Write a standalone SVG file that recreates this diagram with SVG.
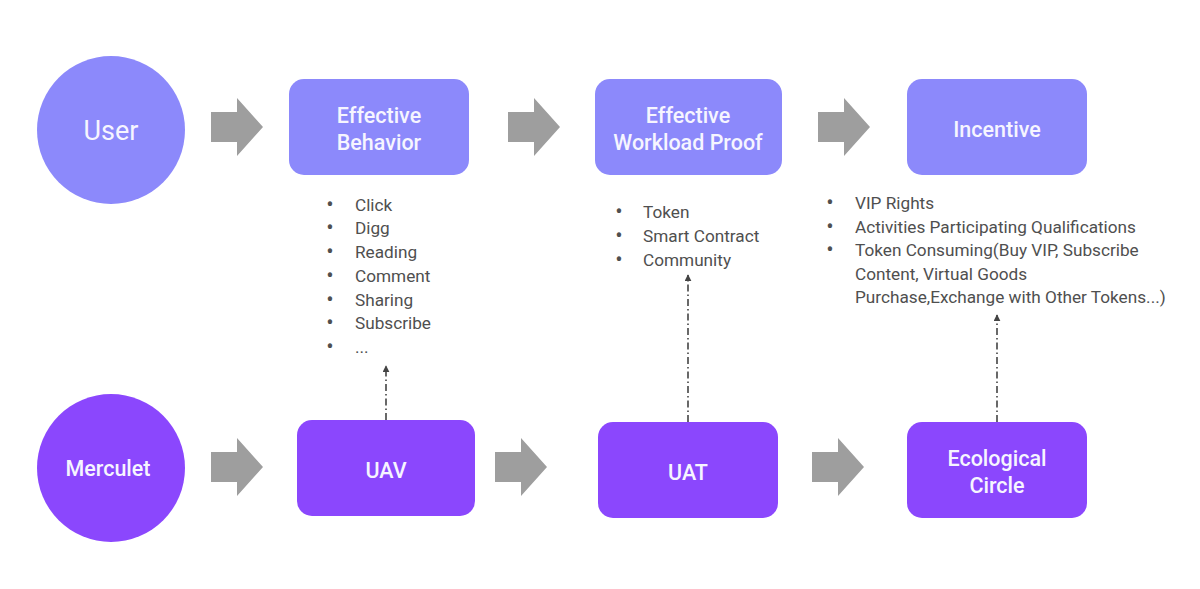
<svg xmlns="http://www.w3.org/2000/svg" width="1200" height="589" viewBox="0 0 1200 589">
<style>
.top{fill:#8c89fb}
.bot{fill:#8b47fd}
.lbl{font-family:Roboto,"Liberation Sans",sans-serif;font-weight:500;fill:#f6f5ff;text-anchor:middle;font-size:21.5px}
.big{font-size:27px;font-weight:400}
.lst{font-family:Roboto,"Liberation Sans",sans-serif;font-size:17.2px;fill:#4f4f4f}
.bul{font-family:Roboto,"Liberation Sans",sans-serif;font-size:22px;fill:#4f4f4f;text-anchor:middle}
.blk{fill:#9e9e9e}
.dash{stroke:#444;stroke-width:1.6;fill:none;stroke-dasharray:7 3 1.5 3}
</style>
<defs>
<marker id="ah" viewBox="0 0 10 10" refX="9" refY="5" markerWidth="7" markerHeight="7" markerUnits="userSpaceOnUse" orient="auto">
<path d="M0,0 L10,5 L0,10 z" fill="#444"/>
</marker>
<path id="bigarrow" d="M0,-15 L26,-15 L26,-29 L52,0 L26,29 L26,15 L0,15 z"/>
</defs>
<rect width="1200" height="589" fill="#fff"/>

<g id="connectors">
<use href="#bigarrow" class="blk" x="211" y="127"/>
<use href="#bigarrow" class="blk" x="508" y="127"/>
<use href="#bigarrow" class="blk" x="818" y="127"/>
<use href="#bigarrow" class="blk" x="211" y="467"/>
<use href="#bigarrow" class="blk" x="495" y="467"/>
<use href="#bigarrow" class="blk" x="812" y="467"/>
<line class="dash" x1="386" y1="420" x2="386" y2="366" marker-end="url(#ah)"/>
<line class="dash" x1="688" y1="422" x2="688" y2="275" marker-end="url(#ah)"/>
<line class="dash" x1="997" y1="422" x2="997" y2="315" marker-end="url(#ah)"/>
</g>

<g id="user">
<circle class="top" cx="111" cy="130" r="74"/>
<text class="lbl big" x="111" y="140">User</text>
</g>
<g id="effective-behavior">
<rect class="top" x="289" y="79" width="180" height="96" rx="15"/>
<text class="lbl" x="379" y="123">Effective</text>
<text class="lbl" x="379" y="150">Behavior</text>
</g>
<g id="effective-workload-proof">
<rect class="top" x="595" y="79" width="187" height="96" rx="15"/>
<text class="lbl" x="688" y="123">Effective</text>
<text class="lbl" x="688" y="150">Workload Proof</text>
</g>
<g id="incentive">
<rect class="top" x="907" y="79" width="180" height="96" rx="15"/>
<text class="lbl" x="997" y="137">Incentive</text>
</g>

<g id="merculet">
<circle class="bot" cx="111" cy="468" r="74"/>
<text class="lbl" x="108" y="476">Merculet</text>
</g>
<g id="uav">
<rect class="bot" x="297" y="420" width="178" height="96" rx="15"/>
<text class="lbl" x="386" y="478">UAV</text>
</g>
<g id="uat">
<rect class="bot" x="598" y="422" width="180" height="96" rx="15"/>
<text class="lbl" x="688" y="480">UAT</text>
</g>
<g id="ecological-circle">
<rect class="bot" x="907" y="422" width="180" height="96" rx="15"/>
<text class="lbl" x="997" y="466">Ecological</text>
<text class="lbl" x="997" y="493">Circle</text>
</g>

<g id="behavior-list">
<g class="bul">
<text x="330" y="212">•</text><text x="330" y="235">•</text><text x="330" y="259">•</text><text x="330" y="283">•</text><text x="330" y="307">•</text><text x="330" y="330">•</text><text x="330" y="354">•</text>
</g>
<g class="lst">
<text x="355" y="211">Click</text>
<text x="355" y="234">Digg</text>
<text x="355" y="258">Reading</text>
<text x="355" y="282">Comment</text>
<text x="355" y="306">Sharing</text>
<text x="355" y="329">Subscribe</text>
<text x="355" y="353">...</text>
</g>
</g>
<g id="proof-list">
<g class="bul">
<text x="619" y="219">•</text><text x="619" y="243">•</text><text x="619" y="267">•</text>
</g>
<g class="lst">
<text x="643" y="218">Token</text>
<text x="643" y="242">Smart Contract</text>
<text x="643" y="266">Community</text>
</g>
</g>
<g id="incentive-list">
<g class="bul">
<text x="830" y="210">•</text><text x="830" y="234">•</text><text x="830" y="257">•</text>
</g>
<g class="lst">
<text x="855" y="209">VIP Rights</text>
<text x="855" y="233">Activities Participating Qualifications</text>
<text x="855" y="256">Token Consuming(Buy VIP, Subscribe</text>
<text x="855" y="280">Content, Virtual Goods</text>
<text x="855" y="303">Purchase,Exchange with Other Tokens...)</text>
</g>
</g>
</svg>
